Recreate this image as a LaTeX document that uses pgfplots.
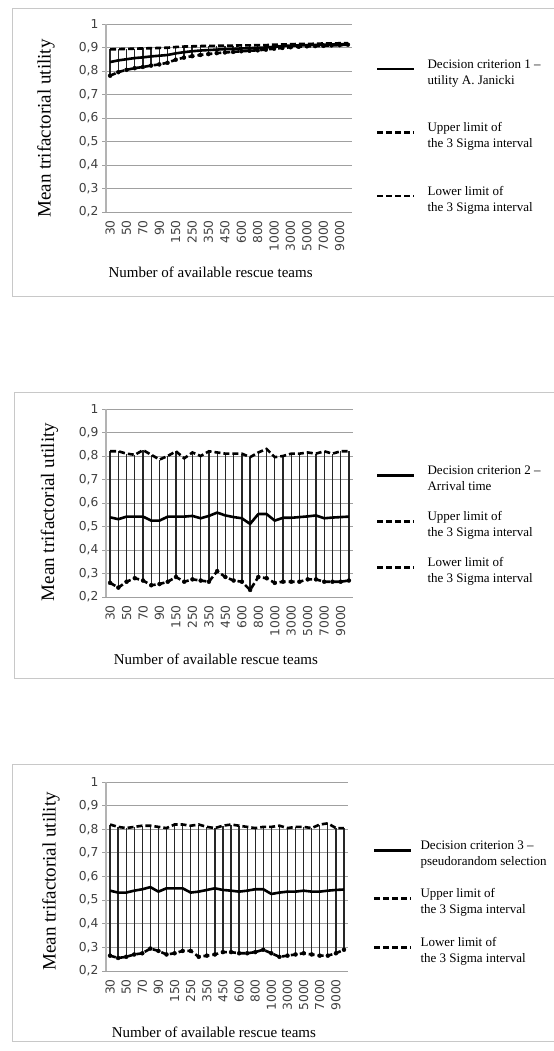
\documentclass[border=0pt]{standalone}
\usepackage{pgfplots}
\pgfplotsset{compat=1.18}
\usepackage{pgfplotstable}
\usepackage{fontspec}
\setmainfont{Liberation Serif}
\newfontfamily\tickfont{DejaVu Sans}
\definecolor{gridc}{HTML}{A0A0A0}
\definecolor{boxc}{HTML}{C8C8C8}
\definecolor{tickc}{HTML}{404040}
\newcommand\legfont{\fontsize{13bp}{16bp}\selectfont}

\pgfplotstableread{
i m u l
0 0.838 0.892 0.780
1 0.845 0.893 0.795
2 0.850 0.894 0.805
3 0.855 0.895 0.812
4 0.858 0.896 0.817
5 0.862 0.897 0.823
6 0.865 0.898 0.828
7 0.868 0.899 0.835
8 0.875 0.902 0.848
9 0.880 0.904 0.857
10 0.884 0.905 0.863
11 0.887 0.906 0.868
12 0.889 0.907 0.872
13 0.891 0.907 0.876
14 0.893 0.908 0.879
15 0.894 0.908 0.881
16 0.896 0.909 0.884
17 0.897 0.909 0.886
18 0.899 0.910 0.888
19 0.900 0.910 0.891
20 0.903 0.912 0.895
21 0.906 0.913 0.898
22 0.908 0.914 0.901
23 0.909 0.915 0.903
24 0.910 0.915 0.905
25 0.911 0.916 0.906
26 0.912 0.917 0.907
27 0.913 0.917 0.909
28 0.914 0.918 0.910
29 0.915 0.918 0.912
}\dataA

\pgfplotstableread{
i m u l
0 0.539 0.820 0.260
1 0.531 0.820 0.240
2 0.542 0.810 0.265
3 0.542 0.805 0.280
4 0.542 0.825 0.270
5 0.525 0.805 0.250
6 0.525 0.785 0.255
7 0.542 0.800 0.265
8 0.542 0.820 0.285
9 0.542 0.790 0.265
10 0.545 0.815 0.275
11 0.535 0.800 0.270
12 0.545 0.820 0.265
13 0.559 0.815 0.310
14 0.547 0.810 0.285
15 0.540 0.810 0.270
16 0.535 0.810 0.265
17 0.511 0.795 0.230
18 0.553 0.815 0.285
19 0.553 0.830 0.280
20 0.525 0.795 0.260
21 0.537 0.800 0.265
22 0.537 0.810 0.265
23 0.540 0.810 0.265
24 0.543 0.815 0.275
25 0.547 0.810 0.275
26 0.535 0.820 0.265
27 0.538 0.810 0.265
28 0.540 0.820 0.265
29 0.542 0.820 0.270
}\dataB

\pgfplotstableread{
i m u l
0 0.540 0.820 0.265
1 0.532 0.810 0.255
2 0.532 0.805 0.260
3 0.540 0.810 0.270
4 0.546 0.815 0.275
5 0.555 0.815 0.295
6 0.536 0.810 0.285
7 0.550 0.805 0.270
8 0.550 0.820 0.275
9 0.550 0.820 0.285
10 0.532 0.815 0.285
11 0.536 0.820 0.260
12 0.543 0.810 0.265
13 0.550 0.805 0.270
14 0.543 0.815 0.280
15 0.540 0.820 0.280
16 0.536 0.815 0.275
17 0.540 0.810 0.275
18 0.546 0.805 0.280
19 0.546 0.810 0.290
20 0.526 0.810 0.275
21 0.532 0.815 0.260
22 0.536 0.805 0.265
23 0.536 0.810 0.270
24 0.540 0.810 0.275
25 0.536 0.805 0.270
26 0.536 0.820 0.265
27 0.540 0.825 0.265
28 0.543 0.805 0.275
29 0.545 0.805 0.290
}\dataC

\pgfplotsset{
  panel/.style={
    scale only axis,
    anchor=south west,
    xmin=-0.5, xmax=29.5,
    ymin=0.2, ymax=1,
    ytick={0.2,0.3,...,1.0},
    xtick={0,2,...,28},
    xticklabels={30,50,70,90,150,250,350,450,600,800,1000,3000,5000,7000,9000},
    axis lines*=left,
    x axis line style={draw=none},
    y axis line style={gridc!80, line width=1.6bp},
    ymajorgrids,
    grid style={gridc, line width=0.9bp},
    tick align=outside,
    major tick length=4bp,
    xtick style={draw=none},
    ytick style={gridc, line width=0.9bp},
    ticklabel style={font=\fontsize{12.3bp}{14bp}\tickfont, text=tickc},
    yticklabel style={/pgf/number format/.cd, use comma, fixed, precision=1, assume math mode=true},
    xticklabel style={rotate=90, anchor=east, inner sep=4bp},
    label style={font=\fontsize{15bp}{18bp}\selectfont},
    ylabel style={font=\fontsize{19bp}{22bp}\selectfont, anchor=center},
    xlabel={Number of available rescue teams},
    ylabel={Mean trifactorial utility},
    legend style={draw=none, fill=none, font=\legfont, anchor=west, inner sep=0pt, outer sep=0pt,
      nodes={inner sep=0pt}},
    legend cell align=left,
    legend image code/.code={\draw[#1] (0bp,-2bp) -- (37bp,-2bp);},
    clip=false,
  },
  meanl/.style={black, line width=2.6bp, line join=round},
  limitl/.style={black, line width=2.6bp, dash pattern=on 6bp off 3bp},
  hll/.style={only marks, mark=none, forget plot, error bars/.cd, y dir=plus, y explicit, error mark=none,
     error bar style={black!85, line width=1.3bp}},
}

\begin{document}
\begin{tikzpicture}[x=1bp,y=1bp]
\useasboundingbox (0,0) rectangle (554,1051);
% panel frames
\draw[boxc, line width=0.9bp] (560,1051-8) -- (12,1051-8) -- (12,1051-296) -- (560,1051-296);
\draw[boxc, line width=0.9bp] (560,1051-392) -- (14,1051-392) -- (14,1051-678) -- (560,1051-678);
\draw[boxc, line width=0.9bp] (560,1051-764) -- (12,1051-764) -- (12,1051-1041) -- (560,1051-1041);

% panel 1
\begin{axis}[panel, at={(106bp,839bp)}, width=246bp, height=188bp,
  ylabel style={at={(axis description cs:-0.244,0.444)}},
  xlabel style={at={(axis description cs:0.425,-0.319)}, anchor=center},
  legend style={at={(axis description cs:1,0.433)}, xshift=24bp, row sep=43bp, column sep=12bp}]
\addplot[hll] table[x=i, y=l, y error expr=\thisrow{u}-\thisrow{l}] {\dataA};
\addplot[meanl] table[x=i, y=m] {\dataA};
\addlegendentry{\begin{tabular}{@{}l@{}}Decision criterion 1 –\\utility A. Janicki\end{tabular}}
\addplot[limitl] table[x=i, y=u] {\dataA};
\addlegendentry{\begin{tabular}{@{}l@{}}Upper limit of\\the 3 Sigma interval\end{tabular}}
\addplot[limitl] table[x=i, y=l] {\dataA};
\addlegendentry{\begin{tabular}{@{}l@{}}Lower limit of\\the 3 Sigma interval\end{tabular}}
\end{axis}

% panel 2
\begin{axis}[panel, at={(106bp,454bp)}, width=247bp, height=188bp,
  ylabel style={at={(axis description cs:-0.229,0.452)}},
  xlabel style={at={(axis description cs:0.445,-0.33)}, anchor=center},
  legend style={at={(axis description cs:1,0.413)}, xshift=23bp, row sep=25.5bp, column sep=12bp}]
\addplot[hll] table[x=i, y=l, y error expr=\thisrow{u}-\thisrow{l}] {\dataB};
\addplot[meanl] table[x=i, y=m] {\dataB};
\addlegendentry{\begin{tabular}{@{}l@{}}Decision criterion 2 –\\Arrival time\end{tabular}}
\addplot[limitl] table[x=i, y=u] {\dataB};
\addlegendentry{\begin{tabular}{@{}l@{}}Upper limit of\\the 3 Sigma interval\end{tabular}}
\addplot[limitl] table[x=i, y=l] {\dataB};
\addlegendentry{\begin{tabular}{@{}l@{}}Lower limit of\\the 3 Sigma interval\end{tabular}}
\end{axis}

% panel 3
\begin{axis}[panel, at={(106bp,80bp)}, width=242bp, height=189bp,
  ylabel style={at={(axis description cs:-0.227,0.474)}},
  xlabel style={at={(axis description cs:0.446,-0.323)}, anchor=center},
  legend style={at={(axis description cs:1,0.393)}, xshift=25bp, row sep=28bp, column sep=8bp}]
\addplot[hll] table[x=i, y=l, y error expr=\thisrow{u}-\thisrow{l}] {\dataC};
\addplot[meanl] table[x=i, y=m] {\dataC};
\addlegendentry{\begin{tabular}{@{}l@{}}Decision criterion 3 –\\pseudorandom selection\end{tabular}}
\addplot[limitl] table[x=i, y=u] {\dataC};
\addlegendentry{\begin{tabular}{@{}l@{}}Upper limit of\\the 3 Sigma interval\end{tabular}}
\addplot[limitl] table[x=i, y=l] {\dataC};
\addlegendentry{\begin{tabular}{@{}l@{}}Lower limit of\\the 3 Sigma interval\end{tabular}}
\end{axis}
\end{tikzpicture}
\end{document}
